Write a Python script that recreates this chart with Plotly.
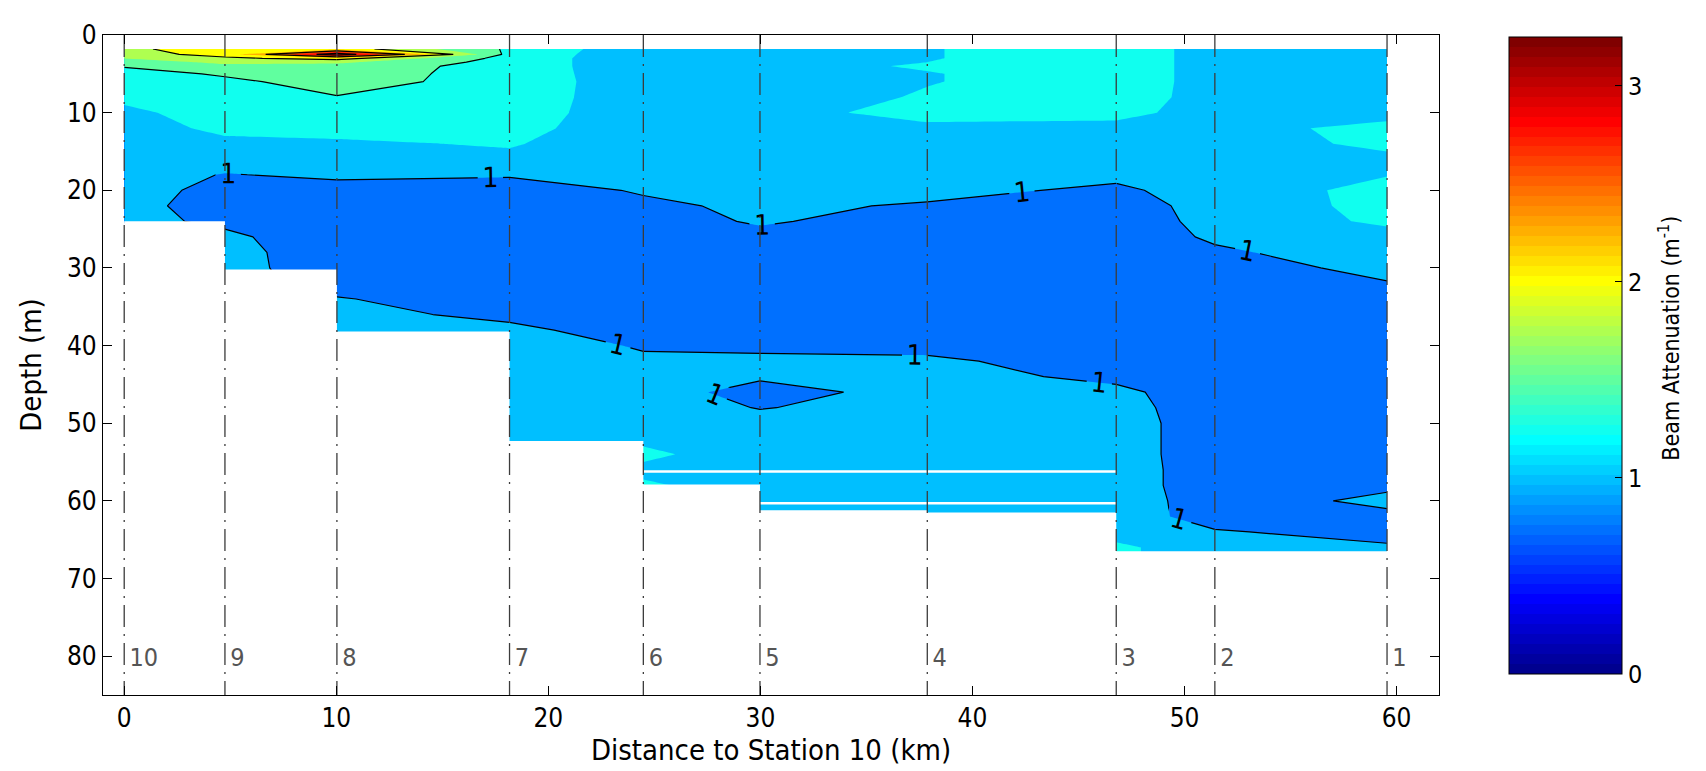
import plotly.graph_objects as go

# ---------------- data ----------------
station_names = ["10", "9", "8", "7", "6", "5", "4", "3", "2", "1"]
station_km = [0.0, 4.75, 10.03, 18.17, 24.48, 29.98, 37.87, 46.78, 51.43, 59.55]
bottom_depth_m = [24.0, 30.2, 38.2, 52.3, 57.9, 61.2, 61.5, 66.5, 66.5, 66.5]

# thin horizontal gaps (missing bins) in the section
gap_depth_m = [56.2, 60.3]
gap_from_station = ["6", "5"]
gap_to_station = ["3", "3"]

depth_m = [1.8, 2.5, 3, 3.5, 4, 5, 6, 8, 10, 12, 14, 16, 18, 20, 22, 24, 26, 28, 30,
           32, 34, 36, 38, 40, 42, 44, 46, 48, 50, 52, 54, 56, 58, 60, 62, 64, 66, 67]

# beam attenuation profiles (m^-1), one list per station, top to bottom
beam_st10 = [1.92, 1.88, 1.76, 1.64, 1.52, 1.40, 1.38, 1.30, 1.20, 1.15, 1.14, 1.12, 1.10,
             1.08, 1.06, 1.06]
beam_st9 = [2.20, 2.10, 1.95, 1.80, 1.70, 1.53, 1.45, 1.40, 1.35, 1.30, 1.20, 1.10, 0.99,
            0.94, 0.92, 0.96, 1.04, 1.06, 1.06, 1.06]
beam_st8 = [2.15, 3.20, 2.10, 1.80, 1.65, 1.62, 1.60, 1.49, 1.40, 1.32, 1.22, 1.12, 1.04,
            0.92, 0.88, 0.87, 0.88, 0.90, 0.91, 0.94, 1.01, 1.05, 1.06, 1.06]
beam_st7 = [1.46, 1.42, 1.40, 1.40, 1.40, 1.40, 1.40, 1.39, 1.37, 1.33, 1.27, 1.20, 1.02,
            0.90, 0.87, 0.87, 0.88, 0.88, 0.89, 0.90, 0.92, 0.96, 1.04, 1.08, 1.10, 1.10,
            1.10, 1.11, 1.12, 1.14, 1.15]
beam_st6 = [1.08, 1.08, 1.08, 1.08, 1.08, 1.09, 1.10, 1.10, 1.10, 1.10, 1.10, 1.08, 1.05,
            1.02, 0.96, 0.92, 0.90, 0.89, 0.89, 0.89, 0.89, 0.90, 0.92, 0.985, 1.025, 1.08,
            1.10, 1.12, 1.15, 1.20, 1.30, 1.20, 1.28]
beam_st5 = [1.12, 1.12, 1.13, 1.15, 1.18, 1.15, 1.14, 1.14, 1.16, 1.14, 1.12, 1.10, 1.08,
            1.05, 1.04, 1.02, 0.95, 0.89, 0.88, 0.88, 0.88, 0.89, 0.90, 0.96, 1.04, 1.03,
            0.92, 0.99, 1.08, 1.10, 1.12, 1.15, 1.15, 1.15, 1.15]
beam_st4 = [1.24, 1.24, 1.24, 1.25, 1.27, 1.24, 1.24, 1.27, 1.33, 1.20, 1.15, 1.12, 1.10,
            1.06, 0.98, 0.92, 0.89, 0.88, 0.88, 0.88, 0.88, 0.89, 0.90, 0.95, 1.03, 1.08,
            1.08, 1.09, 1.10, 1.10, 1.11, 1.12, 1.12, 1.12, 1.12]
beam_st3 = [1.35, 1.35, 1.35, 1.35, 1.35, 1.35, 1.35, 1.34, 1.30, 1.20, 1.15, 1.12, 1.05,
            0.96, 0.90, 0.89, 0.88, 0.88, 0.88, 0.88, 0.88, 0.88, 0.89, 0.90, 0.92, 0.95,
            1.05, 1.08, 1.10, 1.10, 1.10, 1.10, 1.10, 1.12, 1.12, 1.15, 1.30, 1.30]
beam_st2 = [1.18, 1.18, 1.18, 1.18, 1.18, 1.18, 1.18, 1.18, 1.18, 1.15, 1.14, 1.12, 1.10,
            1.10, 1.08, 1.06, 1.03, 0.97, 0.92, 0.90, 0.89, 0.88, 0.88, 0.88, 0.88, 0.88,
            0.88, 0.88, 0.88, 0.88, 0.88, 0.89, 0.89, 0.89, 0.90, 1.02, 1.10, 1.10]
beam_st1 = [1.15, 1.15, 1.15, 1.15, 1.15, 1.15, 1.15, 1.15, 1.15, 1.33, 1.30, 1.20, 1.24,
            1.33, 1.33, 1.30, 1.15, 1.10, 1.05, 0.99, 0.92, 0.90, 0.89, 0.88, 0.88, 0.88,
            0.88, 0.88, 0.88, 0.88, 0.88, 0.89, 0.96, 1.05, 0.95, 0.92, 1.03, 1.05]

profiles = [beam_st10, beam_st9, beam_st8, beam_st7, beam_st6,
            beam_st5, beam_st4, beam_st3, beam_st2, beam_st1]

# station groups used for labelling contour lines (indices into station lists)
label_groups = [(0, 2), (2, 4), (4, 6), (6, 7), (7, 9)]

CMIN, CMAX = 0.0, 3.25
FILL_START, FILL_END, FILL_STEP = 0.0, 3.25, 0.25
LINE_START, LINE_END, LINE_STEP = 1.0, 3.0, 0.5
DEPTH_RANGE = [85, 0]
X_RANGE = [-1, 62]

FONT = "Liberation Sans Narrow, DejaVu Sans Condensed, Arial Narrow, sans-serif"


# ---------------- MATLAB jet(64) ----------------
def jet64():
    m, n = 64, 16
    u = [i / n for i in range(1, n + 1)] + [1.0] * (n - 1) + [i / n for i in range(n, 0, -1)]
    J = [[0.0, 0.0, 0.0] for _ in range(m)]
    for k, uk in enumerate(u):
        gi = n // 2 + k + 1
        ri, bi = gi + n, gi - n
        if ri <= m:
            J[ri - 1][0] = uk
        if 1 <= gi <= m:
            J[gi - 1][1] = uk
        if bi >= 1:
            J[bi - 1][2] = uk
    return ["rgb(%d,%d,%d)" % tuple(round(255 * c) for c in row) for row in J]


JET = jet64()


def band_color(level):
    idx = int((level - CMIN) / (CMAX - CMIN) * 64 + 1e-9)
    return JET[max(0, min(63, idx))]


# colorscale for the filled contour: each band uses MATLAB's colour of its lower level
n_levels = int(round((FILL_END - FILL_START) / FILL_STEP)) + 1
fill_scale = []
for k in range(-1, n_levels):
    lo = max(0.0, (k + 0.5) / n_levels)
    hi = min(1.0, (k + 1.5) / n_levels)
    c = band_color(FILL_START + max(k, 0) * FILL_STEP)
    fill_scale.append([lo, c])
    fill_scale.append([hi, c])

# discrete 64-step jet for the colour bar
bar_scale = []
for i, c in enumerate(JET):
    bar_scale.append([i / 64, c])
    bar_scale.append([(i + 1) / 64, c])

# z grid (depth x station), None below the seafloor
nrow = len(depth_m)
z = [[(p[r] if r < len(p) else None) for p in profiles] for r in range(nrow)]

fig = go.Figure()

fig.add_trace(go.Contour(
    x=station_km, y=depth_m, z=z,
    autocontour=False,
    contours=dict(start=FILL_START, end=FILL_END, size=FILL_STEP, coloring="fill",
                  showlines=False),
    colorscale=fill_scale, showscale=False, line=dict(width=0, smoothing=0),
    hoverinfo="skip",
))

# labelled contour lines (one trace per group of stations so every part gets labels)
for a, b in label_groups:
    fig.add_trace(go.Contour(
        x=station_km[a:b + 1], y=depth_m, z=[row[a:b + 1] for row in z],
        autocontour=False,
        contours=dict(start=LINE_START, end=LINE_END, size=LINE_STEP, coloring="none",
                      showlabels=True,
                      labelfont=dict(family=FONT, size=28, color="black")),
        line=dict(color="black", width=1.2, smoothing=0),
        showscale=False, hoverinfo="skip",
    ))

# seafloor mask: below the shallower of each pair of neighbouring stations
mx, my = [station_km[0]], [DEPTH_RANGE[0]]
for i in range(len(station_km) - 1):
    m = min(bottom_depth_m[i], bottom_depth_m[i + 1])
    mx += [station_km[i], station_km[i + 1]]
    my += [m, m]
mx += [station_km[-1], station_km[0]]
my += [DEPTH_RANGE[0], DEPTH_RANGE[0]]
fig.add_trace(go.Scatter(x=mx, y=my, fill="toself", fillcolor="white", mode="lines",
                         line=dict(width=0, color="white"), hoverinfo="skip"))

# missing-bin gaps
gx, gy = [], []
for d, s0, s1 in zip(gap_depth_m, gap_from_station, gap_to_station):
    gx += [station_km[station_names.index(s0)], station_km[station_names.index(s1)], None]
    gy += [d, d, None]
fig.add_trace(go.Scatter(x=gx, y=gy, mode="lines", line=dict(color="white", width=2.5),
                         hoverinfo="skip"))

# station dash-dot lines
sx, sy = [], []
for s in station_km:
    sx += [s, s, None]
    sy += [DEPTH_RANGE[1], DEPTH_RANGE[0], None]
fig.add_trace(go.Scatter(x=sx, y=sy, mode="lines",
                         line=dict(color="#3c3c3c", width=1.3, dash="22px,7px,2px,7px"),
                         hoverinfo="skip"))

# station labels
fig.add_trace(go.Scatter(x=[s + 0.25 for s in station_km], y=[80.5] * len(station_km),
                         mode="text", text=station_names, textposition="middle right",
                         textfont=dict(family=FONT, size=25, color="#555555"),
                         hoverinfo="skip"))

# colour bar
fig.add_trace(go.Scatter(
    x=[None], y=[None], mode="markers",
    marker=dict(color=[CMIN], colorscale=bar_scale, cmin=CMIN, cmax=CMAX, showscale=True,
                colorbar=dict(
                    x=1.0527, xanchor="left", xpad=0,
                    y=0.5144, yanchor="middle", ypad=0,
                    thickness=113, thicknessmode="pixels",
                    len=637, lenmode="pixels",
                    outlinewidth=1, outlinecolor="black",
                    tickvals=[0, 1, 2, 3], ticks="inside", ticklen=7, tickcolor="black",
                    tickfont=dict(family=FONT, size=25, color="black"),
                )),
    hoverinfo="skip",
))

axis_common = dict(showgrid=False, zeroline=False, showline=True, linecolor="black",
                   linewidth=1.2, mirror="ticks", ticks="inside", ticklen=9,
                   tickcolor="black", tickwidth=1,
                   tickfont=dict(family=FONT, size=26, color="black"))

fig.update_layout(
    width=1706, height=771,
    margin=dict(l=95, r=275, t=19, b=84),
    paper_bgcolor="white", plot_bgcolor="white",
    showlegend=False,
    font=dict(family=FONT, size=26, color="black"),
    xaxis=dict(range=X_RANGE, tickvals=[0, 10, 20, 30, 40, 50, 60],
               title=dict(text="Distance to Station 10 (km)", standoff=6,
                          font=dict(family=FONT, size=29)),
               **axis_common),
    yaxis=dict(range=DEPTH_RANGE, tickvals=[0, 10, 20, 30, 40, 50, 60, 70, 80],
               title=dict(text="Depth (m)", standoff=16, font=dict(family=FONT, size=29)),
               **axis_common),
    annotations=[dict(text="Beam Attenuation (m<sup>-1</sup>)", textangle=-90,
                      xref="paper", yref="paper", x=1.1722, y=0.540,
                      xanchor="center", yanchor="middle", showarrow=False,
                      font=dict(family=FONT, size=23, color="black"))],
)

fig.write_html("out.html")
